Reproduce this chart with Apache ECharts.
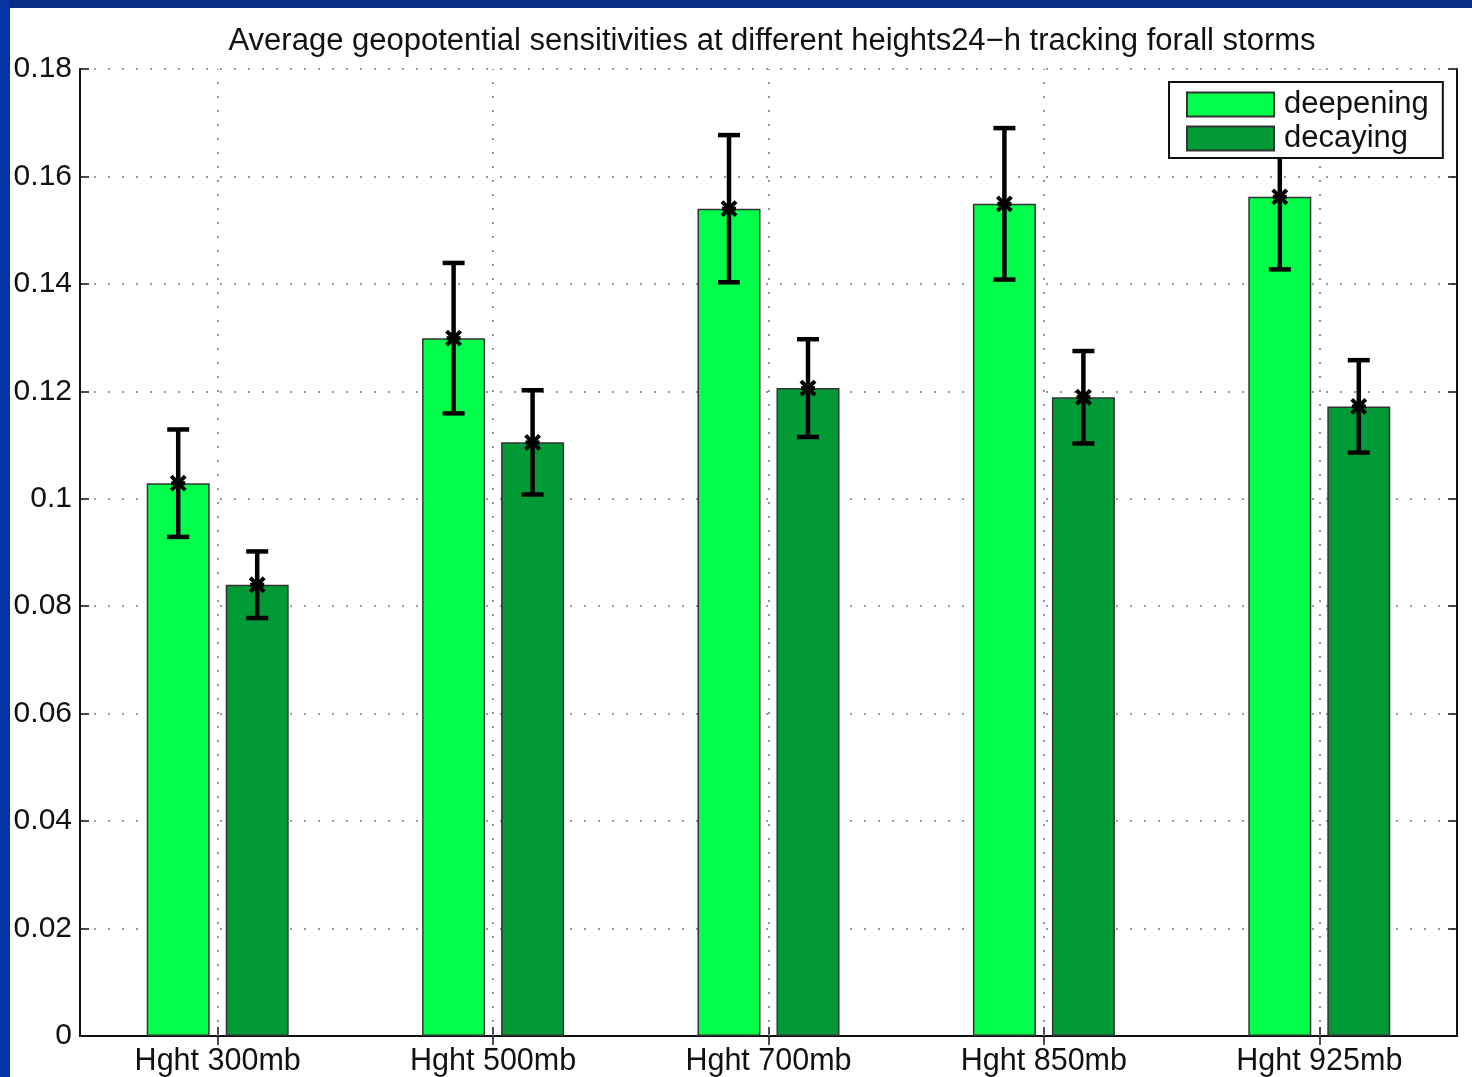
<!DOCTYPE html>
<html>
<head>
<meta charset="utf-8">
<script src="https://cdn.jsdelivr.net/npm/echarts@6/dist/echarts.min.js"></script>
<style>
  html, body { margin: 0; padding: 0; background: #ffffff; }
  #band-top { position: absolute; left: 0; top: 0; width: 1472px; height: 8px; background: #0a2d84; }
  #band-left { position: absolute; left: 0; top: 0; width: 10px; height: 1077px; background: #0535a2; }
  #chart { position: absolute; left: 10px; top: 8px; width: 1462px; height: 1069px; background: #ffffff; }
</style>
</head>
<body>
<div id="band-top"></div>
<div id="band-left"></div>
<div id="chart"></div>
<script>
// Pressure levels on the category axis
const levels = ['Hght 300mb', 'Hght 500mb', 'Hght 700mb', 'Hght 850mb', 'Hght 925mb'];

// Mean sensitivities and their error half-widths
const deepening    = [0.1029, 0.1299, 0.1540, 0.1549, 0.1562];
const deepeningErr = [0.0100, 0.0140, 0.0137, 0.0141, 0.0135];
const decaying     = [0.0840, 0.1105, 0.1206, 0.1189, 0.1172];
const decayingErr  = [0.0062, 0.0097, 0.0091, 0.0086, 0.0086];

// Value axis range
const yMin = 0, yMax = 0.18, yStep = 0.02;

const FONT = '"Liberation Sans", Arial, Helvetica, sans-serif';
const BAR_WIDTH = 63;
const BAR_GAP = 16;               // pixels between the two bars of a group
const SHIFT = (BAR_WIDTH + BAR_GAP) / 2;

const dotted = { color: '#7a7a7a', width: 1.6, type: [2, 12] };

function errorBars(shift) {
  return function (params, api) {
    const i = api.value(0), v = api.value(1), e = api.value(2);
    const mid = api.coord([i, v]);
    const hi = api.coord([i, v + e]);
    const lo = api.coord([i, v - e]);
    const x = mid[0] + shift, y = mid[1];
    const bar = { stroke: '#000', lineWidth: 4.5 };
    const mark = { stroke: '#000', lineWidth: 4 };
    const cap = 11, s = 7;
    return {
      type: 'group',
      children: [
        { type: 'line', shape: { x1: x, y1: hi[1], x2: x, y2: lo[1] }, style: bar },
        { type: 'line', shape: { x1: x - cap, y1: hi[1], x2: x + cap, y2: hi[1] }, style: bar },
        { type: 'line', shape: { x1: x - cap, y1: lo[1], x2: x + cap, y2: lo[1] }, style: bar },
        { type: 'line', shape: { x1: x - s, y1: y - s, x2: x + s, y2: y + s }, style: mark },
        { type: 'line', shape: { x1: x - s, y1: y + s, x2: x + s, y2: y - s }, style: mark },
        { type: 'line', shape: { x1: x - s, y1: y, x2: x + s, y2: y }, style: mark }
      ]
    };
  };
}

const chart = echarts.init(document.getElementById('chart'), null, { renderer: 'canvas' });

chart.setOption({
  backgroundColor: '#ffffff',
  animation: false,
  title: {
    text: 'Average geopotential sensitivities at different heights24\u2212h tracking forall storms',
    left: 757,
    top: 13,
    textAlign: 'center',
    textStyle: { fontFamily: FONT, fontSize: 31, fontWeight: 'normal', color: '#111' }
  },
  legend: {
    data: ['deepening', 'decaying'],
    orient: 'vertical',
    left: 1159,
    top: 74,
    padding: [7, 14, 4, 17],
    itemWidth: 87,
    itemHeight: 24,
    itemGap: 3,
    backgroundColor: '#ffffff',
    borderColor: '#111',
    borderWidth: 2,
    borderRadius: 0,
    icon: 'rect',
    z: 10,
    textStyle: { fontFamily: FONT, fontSize: 31, color: '#111', padding: [0, 0, 0, 5] }
  },
  grid: { left: 70, top: 61, right: 15, bottom: 39, containLabel: false },
  xAxis: [
    {
      type: 'category',
      data: levels,
      position: 'bottom',
      axisLine: { show: true, lineStyle: { color: '#111', width: 2 } },
      axisTick: { show: true, inside: true, alignWithLabel: true, length: 9, lineStyle: { color: '#111', width: 1.5 } },
      axisLabel: { fontFamily: FONT, fontSize: 30.5, color: '#111', margin: 10 },
      splitLine: { show: false }
    },
    {
      type: 'category',
      data: levels,
      position: 'top',
      axisLine: { show: true, lineStyle: { color: '#111', width: 2 } },
      axisTick: { show: true, inside: true, alignWithLabel: true, length: 9, lineStyle: { color: '#111', width: 1.5 } },
      axisLabel: { show: false },
      splitLine: { show: false }
    }
  ],
  yAxis: [
    {
      type: 'value',
      min: yMin, max: yMax, interval: yStep,
      position: 'left',
      axisLine: { show: true, lineStyle: { color: '#111', width: 2 } },
      axisTick: { show: true, inside: true, length: 9, lineStyle: { color: '#111', width: 1.5 } },
      axisLabel: { fontFamily: FONT, fontSize: 30, color: '#111', margin: 8 },
      splitLine: { show: true, lineStyle: dotted }
    },
    {
      type: 'value',
      min: yMin, max: yMax, interval: yStep,
      position: 'right',
      axisLine: { show: true, lineStyle: { color: '#111', width: 2 } },
      axisTick: { show: true, inside: true, length: 9, lineStyle: { color: '#111', width: 1.5 } },
      axisLabel: { show: false },
      splitLine: { show: false }
    }
  ],
  series: [
    {
      // vertical dotted grid through each category centre
      name: 'category grid',
      type: 'line',
      data: [],
      silent: true,
      z: 1,
      markLine: {
        silent: true,
        symbol: 'none',
        z: 1,
        animation: false,
        label: { show: false },
        lineStyle: dotted,
        data: levels.map(function (c) { return { xAxis: c }; })
      }
    },
    {
      name: 'deepening',
      type: 'bar',
      data: deepening,
      barWidth: BAR_WIDTH,
      barGap: (BAR_GAP / BAR_WIDTH * 100).toFixed(1) + '%',
      itemStyle: { color: '#00ff4a', borderColor: '#333', borderWidth: 1.5 },
      z: 2
    },
    {
      name: 'decaying',
      type: 'bar',
      data: decaying,
      barWidth: BAR_WIDTH,
      itemStyle: { color: '#009a36', borderColor: '#333', borderWidth: 1.5 },
      z: 2
    },
    {
      name: 'deepening error',
      type: 'custom',
      renderItem: errorBars(-SHIFT),
      encode: { x: 0, y: 1 },
      data: deepening.map(function (v, i) { return [i, v, deepeningErr[i]]; }),
      z: 3
    },
    {
      name: 'decaying error',
      type: 'custom',
      renderItem: errorBars(SHIFT),
      encode: { x: 0, y: 1 },
      data: decaying.map(function (v, i) { return [i, v, decayingErr[i]]; }),
      z: 3
    }
  ]
});
</script>
</body>
</html>
